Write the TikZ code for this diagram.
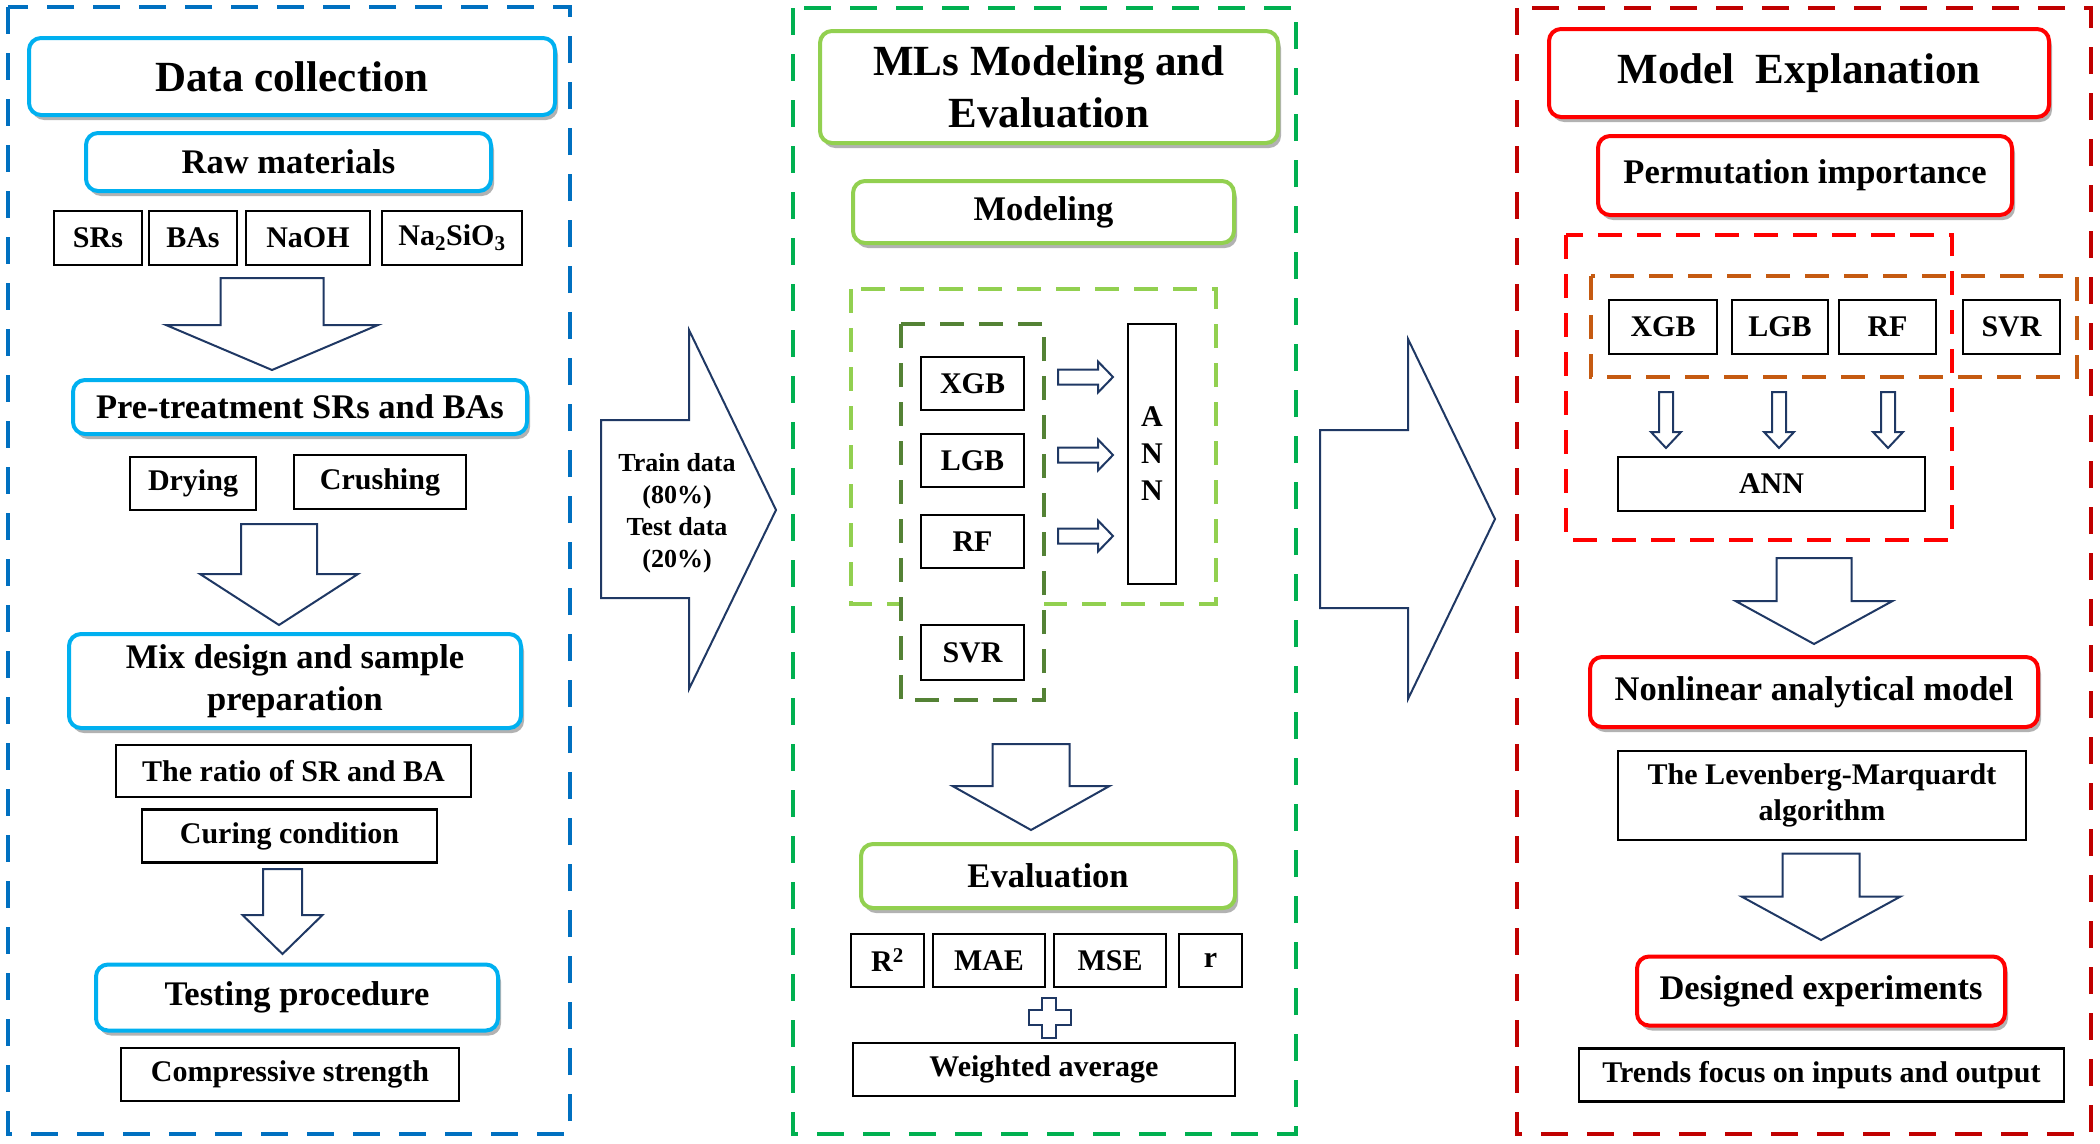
\documentclass[tikz,border=0pt]{standalone}
\usepackage{fontspec}
\setmainfont{Liberation Serif}
\usetikzlibrary{shadows}
\definecolor{dcblue}{HTML}{0070C0}
\definecolor{dcsky}{HTML}{00B0F0}
\definecolor{mlgreen}{HTML}{00B050}
\definecolor{mllime}{HTML}{92D050}
\definecolor{mlolive}{HTML}{548235}
\definecolor{exdark}{HTML}{C00000}
\definecolor{exred}{HTML}{FF0000}
\definecolor{exorange}{HTML}{C55A11}
\definecolor{arrownavy}{HTML}{1F3864}

\begin{document}
\begin{tikzpicture}[x=1pt,y=-1pt,
  every node/.style={inner sep=0pt,align=center,font=\bfseries},
  dims/.style 2 args={minimum width=#1pt,minimum height=#2pt},
  headline/.style={draw=#1,line width=4pt,rounded corners=12pt,fill=white,
    drop shadow={shadow xshift=3pt,shadow yshift=-5pt,opacity=.3,fill=black}},
  item/.style={draw=black,line width=2.5pt,fill=white,font=\bfseries\fontsize{30}{36}\selectfont},
  huge text/.style={font=\bfseries\fontsize{43}{52}\selectfont},
  big text/.style={font=\bfseries\fontsize{34.5}{42}\selectfont},
  panel/.style={draw=#1,line width=4.5pt,dash pattern=on 27pt off 19pt},
  group/.style={draw=#1,line width=4pt,dash pattern=on 24pt off 15pt},
  blk/.style={draw=arrownavy,line width=2pt,fill=white,line join=miter}
  ]
\useasboundingbox (0,0) rectangle (2100,1143);

\draw[panel=dcblue] (8,7) rectangle (570,1134);
\draw[panel=mlgreen] (793,8) rectangle (1296,1134);
\draw[panel=exdark] (1517,8) rectangle (2091,1134);

\node[headline=dcsky,huge text,dims={526}{77}] (dc) at (292,76.5) {Data collection};
\node[headline=dcsky,big text,dims={405}{58}] (raw) at (288.5,162) {Raw materials};
\node[item,dims={88}{54}] (srs) at (98,238) {SRs};
\node[item,dims={88}{54}] (bas) at (193,238) {BAs};
\node[item,dims={124}{54}] (naoh) at (308,238) {NaOH};
\node[item,dims={140}{54}] (nasio) at (452,238) {Na\textsubscript{2}SiO\textsubscript{3}};
\node[headline=dcsky,big text,dims={454}{54}] (pre) at (300,407) {Pre-treatment SRs and BAs};
\node[item,dims={126}{53}] (dry) at (193,483.5) {Drying};
\node[item,dims={172}{54}] (crush) at (380,482) {Crushing};
\node[headline=dcsky,big text,dims={452}{94}] (mix) at (295,681) {Mix design and sample\\preparation};
\node[item,dims={355}{52}] (ratio) at (293.5,771) {The ratio of SR and BA};
\node[item,dims={295}{53}] (cure) at (289.5,836) {Curing condition};
\node[headline=dcsky,big text,dims={402}{66}] (test) at (297,997.5) {Testing procedure};
\node[item,dims={338}{53}] (comp) at (290,1074.5) {Compressive strength};

\draw[blk] (601,420) -- (689,420) -- (689,330) -- (776,510) -- (689,689) -- (689,598) -- (601,598) -- cycle;
\node[font=\bfseries\fontsize{26}{32}\selectfont] (split) at (677,513) {Train data\\(80\%)\\Test data\\(20\%)};

\node[headline=mllime,huge text,dims={458}{112}] (mls) at (1049,87) {MLs Modeling and\\Evaluation};
\node[headline=mllime,big text,dims={381}{62}] (modl) at (1043.5,212) {Modeling};
\draw[group=mllime] (851,289) rectangle (1216,604);
\draw[group=mlolive,fill=white] (901,324) rectangle (1044,700);
\node[item,dims={103}{53}] (xgb) at (972.5,383.5) {XGB};
\node[item,dims={103}{53}] (lgb) at (972.5,460.5) {LGB};
\node[item,dims={103}{53}] (rf) at (972.5,541.5) {RF};
\node[item,dims={103}{55}] (svr) at (972.5,652.5) {SVR};
\node[item,dims={48}{260},font=\bfseries\fontsize{30}{37}\selectfont] (ann) at (1152,454) {A\\N\\N};
\foreach \y in {377,455,536}
  \draw[blk] (1058,{\y-7.5}) -- (1098,{\y-7.5}) -- (1098,{\y-15.5}) -- (1113,\y) -- (1098,{\y+15.5}) -- (1098,{\y+7.5}) -- (1058,{\y+7.5}) -- cycle;
\node[headline=mllime,big text,dims={374}{64}] (eval) at (1048,876) {Evaluation};
\node[item,dims={73}{53}] (rsq) at (887.5,960.5) {R\textsuperscript{2}};
\node[item,dims={112}{53}] (mae) at (989,960.5) {MAE};
\node[item,dims={112}{53}] (mse) at (1110,960.5) {MSE};
\node[item,dims={63}{53}] (corr) at (1210.5,960.5) {r};
\draw[blk] (1042,998) -- (1056,998) -- (1056,1010) -- (1071,1010) -- (1071,1025) -- (1056,1025) -- (1056,1038) -- (1042,1038) -- (1042,1025) -- (1029,1025) -- (1029,1010) -- (1042,1010) -- cycle;
\node[item,dims={382}{53}] (wavg) at (1044,1069.5) {Weighted average};

\draw[blk] (1320,430) -- (1408,430) -- (1408,339) -- (1495,519) -- (1408,699) -- (1408,608) -- (1320,608) -- cycle;

\node[headline=exred,huge text,dims={500}{88}] (mexp) at (1799,73) {Model\ \ Explanation};
\node[headline=exred,big text,dims={414}{79}] (perm) at (1805,175.5) {Permutation importance};
\draw[group=exred] (1566,235) rectangle (1952,540);
\draw[group=exorange] (1591,276) rectangle (2077,377);
\node[item,dims={108}{54}] (xgbe) at (1663,327) {XGB};
\node[item,dims={96}{54}] (lgbe) at (1780,327) {LGB};
\node[item,dims={97}{54}] (rfe) at (1887.5,327) {RF};
\node[item,dims={97}{54}] (svre) at (2011.5,327) {SVR};
\foreach \x in {1666,1779,1888}
  \draw[blk] ({\x-7},392) -- ({\x+7},392) -- ({\x+7},432) -- ({\x+15},432) -- (\x,448) -- ({\x-15},432) -- ({\x-7},432) -- cycle;
\node[item,dims={307}{54}] (anne) at (1771.5,484) {ANN};
\node[headline=exred,big text,dims={448}{70}] (nonl) at (1814,692) {Nonlinear analytical model};
\node[item,dims={408}{89}] (lev) at (1822,795.5) {The Levenberg-Marquardt\\algorithm};
\node[headline=exred,big text,dims={368}{69}] (desg) at (1821,991) {Designed experiments};
\node[item,dims={485}{53}] (trend) at (1821.5,1075) {Trends focus on inputs and output};

\foreach \cx/\ty/\sw/\wy/\hw/\tp in {272/278/51.5/325/106/370, 279/524/38/574/79/625, 282.5/869/19.5/915/40/954,
    1031/744/38.5/786/78.5/830, 1814/558/37.5/601/78.5/644, 1821/853.5/38.5/896.5/79.5/940}
  \draw[blk] ({\cx-\sw},\ty) -- ({\cx+\sw},\ty) -- ({\cx+\sw},\wy) -- ({\cx+\hw},\wy) -- (\cx,\tp) -- ({\cx-\hw},\wy) -- ({\cx-\sw},\wy) -- cycle;
\end{tikzpicture}
\end{document}
